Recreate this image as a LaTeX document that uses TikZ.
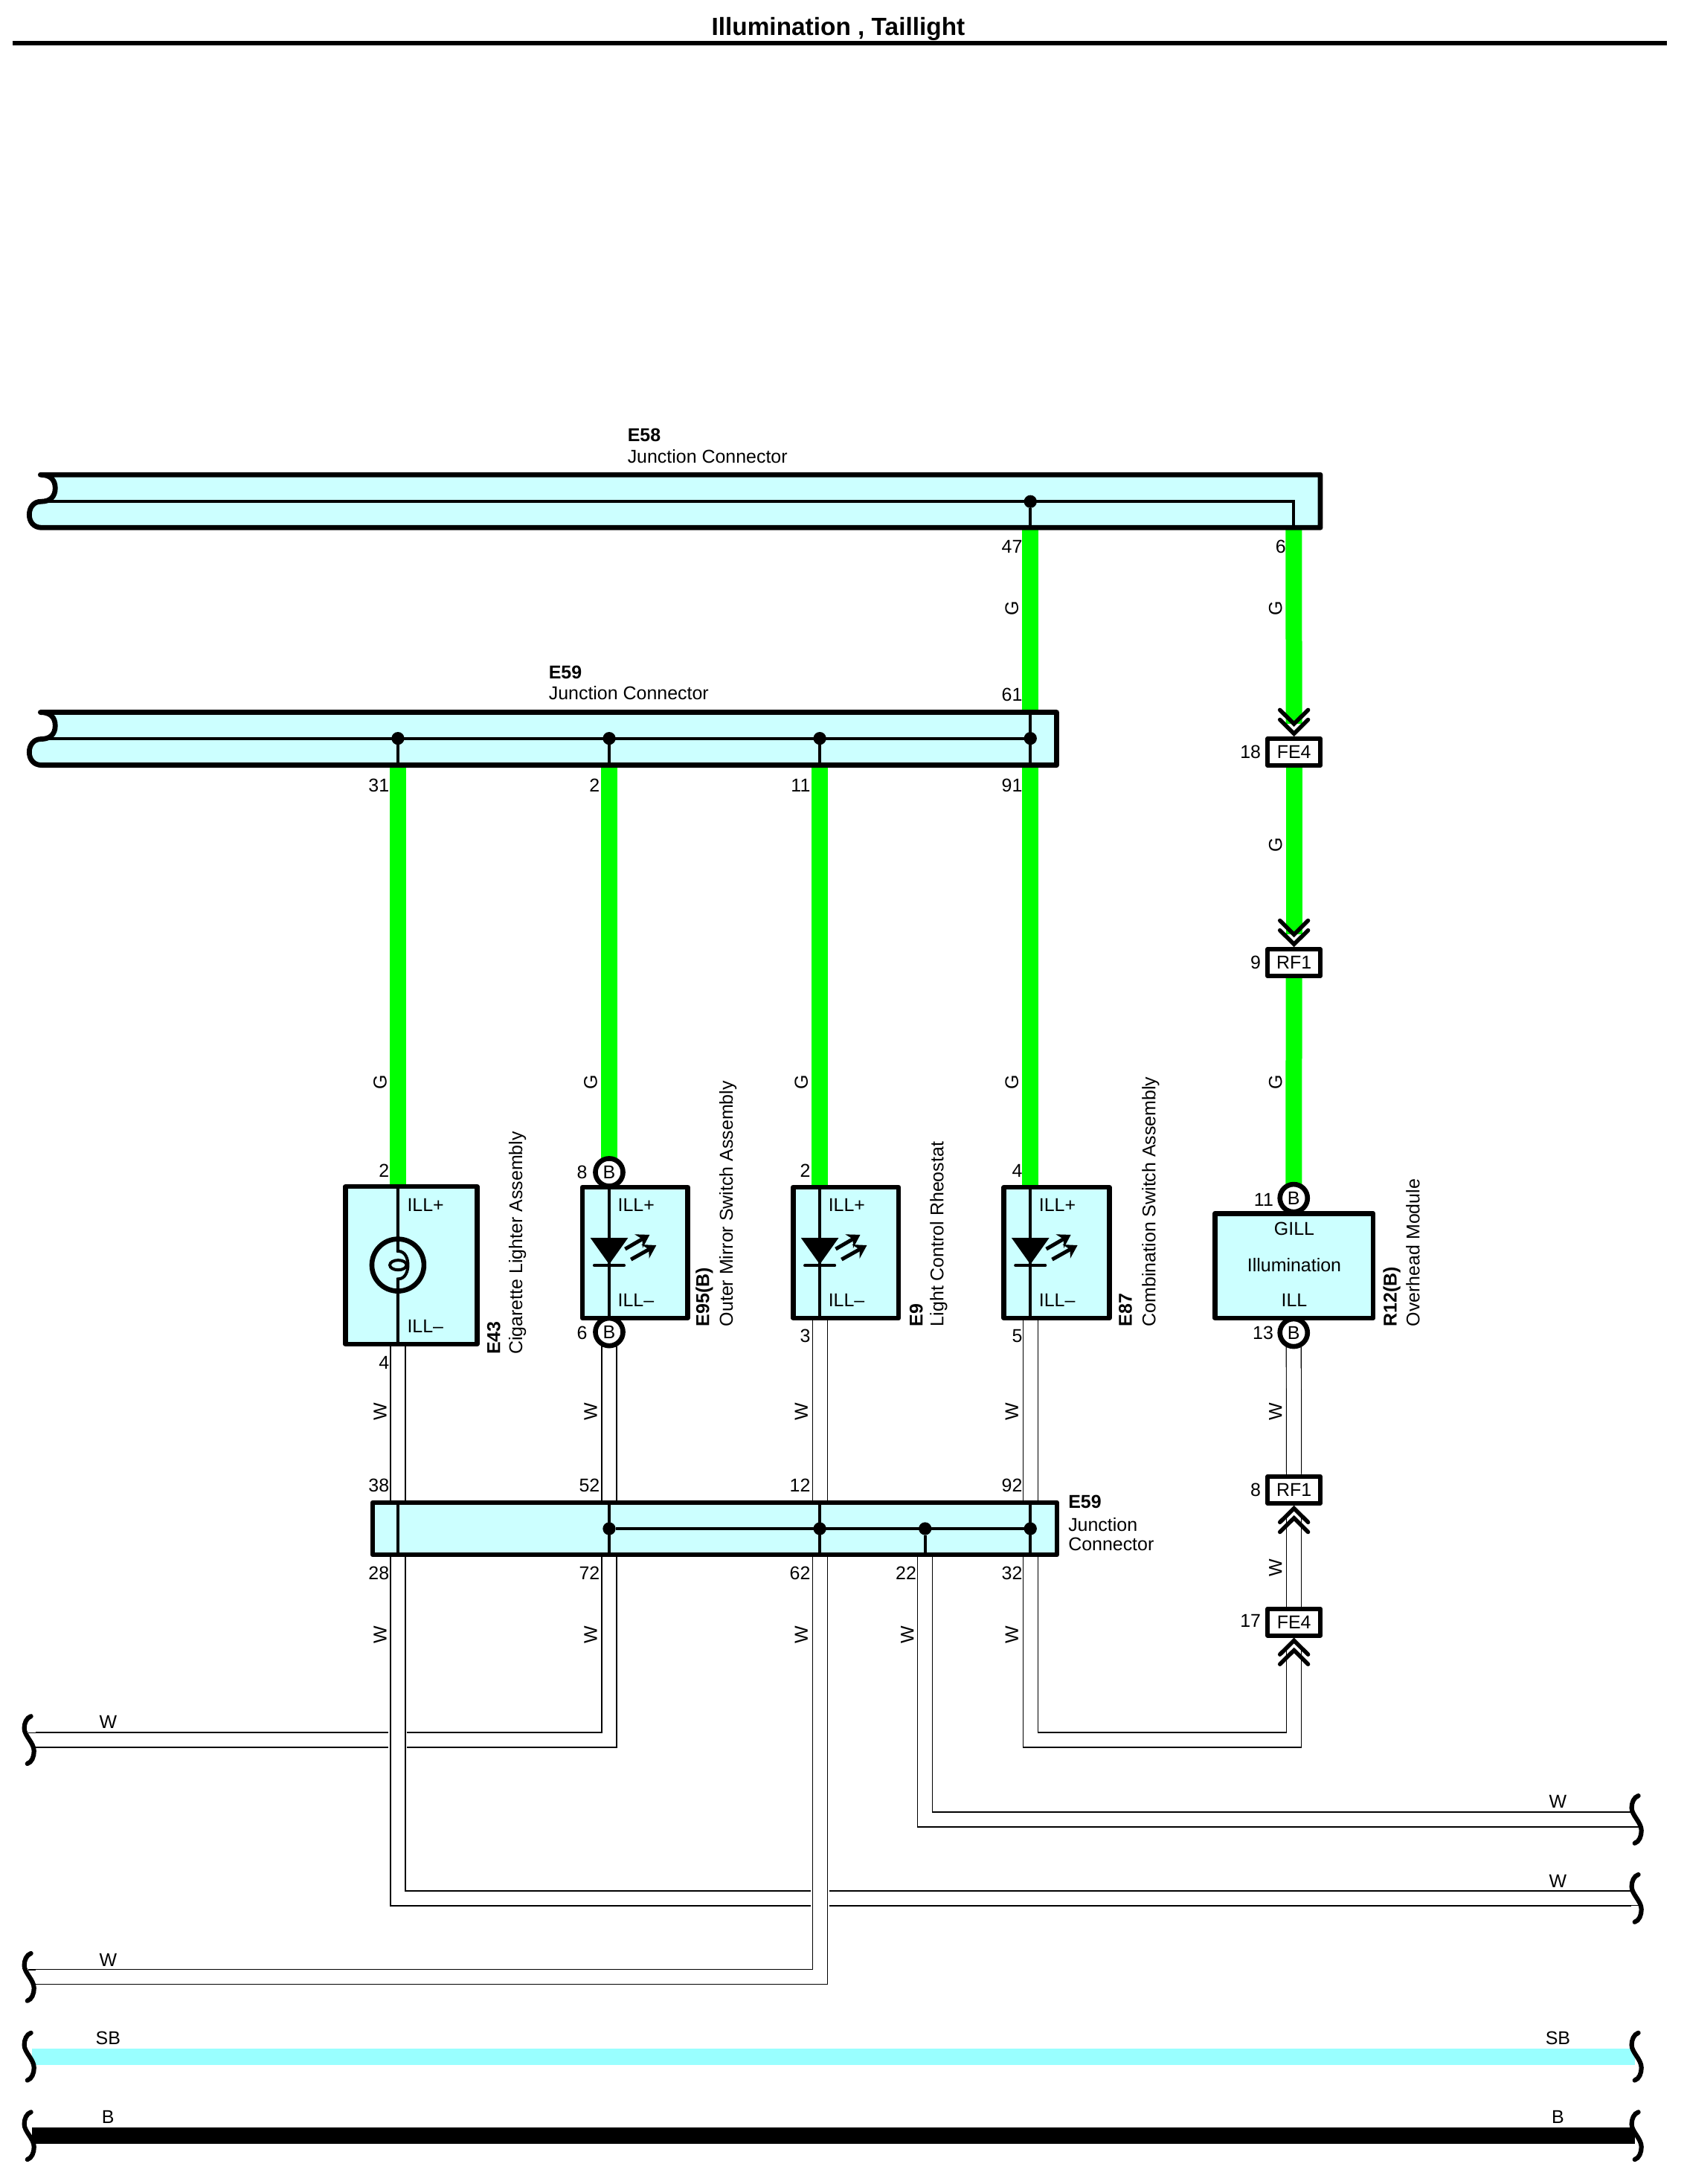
\documentclass[tikz,border=0pt]{standalone}
\usepackage{fontspec}
\setmainfont{Liberation Sans}
\usetikzlibrary{arrows.meta,calc}
\pgfdeclarelayer{bg}
\pgfsetlayers{bg,main}
\definecolor{panel}{HTML}{CCFFFF}
\definecolor{wiregreen}{HTML}{00FF00}
\definecolor{wiresb}{HTML}{99FFFF}
\newcommand{\labfont}{\fontsize{7.1}{8.5}\selectfont}
\newcounter{lblc}
\newcommand{\lbl}[3][]{\stepcounter{lblc}\node[lab,#1] (t\arabic{lblc}) at (#2) {#3};}
\newcommand{\wwire}[1]{\draw[wirehalo] #1; \draw[wireblack] #1; \draw[wirewhite] #1;}
\newcommand{\jbar}[2]{%
  \draw[barline,fill=panel,shift={(0,#1)}] (29,340.4) -- (#2,340.4) -- (#2,378.3) -- (30,378.3)
    .. controls (24,378.3) and (21,374) .. (21,369)
    .. controls (21,364) and (24,359.6) .. (29.3,359.6)
    .. controls (36,359.6) and (39.6,356) .. (39.6,350)
    .. controls (39.6,344) and (36,340.4) .. (29,340.4) -- cycle;}
\tikzset{
  lab/.style={font=\labfont,inner sep=0pt,outer sep=0pt,text=black},
  num/.style={lab,anchor=east},
  side/.style={lab,rotate=90},
  vtext/.style={lab,rotate=90,anchor=west},
  bold/.style={font=\labfont\bfseries},
  barline/.style={line width=0.68mm,line join=round,line cap=round},
  midl/.style={line width=0.42mm,line join=miter},
  innerl/.style={line width=0.4mm},
  comp/.style={draw,fill=panel,line width=0.66mm,line join=round,inner sep=0pt,outer sep=0pt},
  conn/.style={draw,fill=white,line width=0.6mm,line join=round,inner sep=0pt,outer sep=0pt,
    minimum width=0.707cm,minimum height=0.36cm,font=\labfont},
  bpin/.style={circle,draw,fill=white,line width=0.66mm,inner sep=0pt,outer sep=0pt,
    minimum size=0.371cm,font=\labfont},
  jdot/.style={circle,fill=black,inner sep=0pt,outer sep=0pt,minimum size=0.1725cm},
  wiregr/.style={wiregreen,line width=2.2mm},
  wirehalo/.style={white,line width=2.5mm},
  wireblack/.style={black,line width=2.12mm,line join=miter},
  wirewhite/.style={white,line width=1.88mm,line join=miter},
  thinw/.style={black,line width=0.12mm},
  brk/.pic={\draw[line width=0.62mm,line cap=round] (22.2,-17)
     .. controls (19,-16) and (17.4,-12) .. (17.4,-8.4)
     .. controls (17.4,-3) and (24.4,2) .. (24.4,8)
     .. controls (24.4,12) and (22.8,16) .. (19.6,17);},
  chevd/.pic={\draw[line width=0.55mm,line cap=round,line join=miter]
     (-10.1,-20.6) -- (0,-10.6) -- (10.1,-20.6) (-10.1,-13.6) -- (0,-3.6) -- (10.1,-13.6);},
  chevu/.pic={\draw[line width=0.55mm,line cap=round,line join=miter]
     (-10.1,20.6) -- (0,10.6) -- (10.1,20.6) (-10.1,13.6) -- (0,3.6) -- (10.1,13.6);},
  ledsym/.pic={
     \fill (-13.5,0) -- (13.5,0) -- (0,19) -- cycle;
     \draw[line width=0.4mm,line cap=round] (-10.7,19.8) -- (10.7,19.8);
     \draw[line width=0.5mm,-{Stealth[length=1.7mm,width=2.1mm]}] (11.4,8) -- (29,-2.2);
     \draw[line width=0.5mm,-{Stealth[length=1.7mm,width=2.1mm]}] (15.6,15.5) -- (33.8,5.3);},
}
\begin{document}
\begin{tikzpicture}[x=0.01875cm,y=-0.01875cm]
\useasboundingbox (0,0) rectangle (1209.6,1565.87);

% title
\node[lab,font=\fontsize{9.5}{11}\selectfont\bfseries] (title) at (601,20.5) {Illumination , Taillight};
\coordinate (ruleL) at (9,31);
\coordinate (ruleR) at (1195,31);
\draw[line width=0.65mm] (ruleL) -- (ruleR);

% junction bars
\jbar{0}{946.7}
\jbar{170.3}{757.6}
\coordinate (e58b) at (0,378.3);
\coordinate (e59b) at (0,548.6);
\coordinate (e59t) at (0,510.7);
\coordinate (m58) at (29.3,359.6);
\coordinate (m59) at (29.3,529.4);
\coordinate (d6) at (927.6,359.6);
\node[jdot] (d47) at (738.8,359.6) {};
\node[jdot] (d31) at (285.3,529.4) {};
\node[jdot] (d2) at (436.8,529.4) {};
\node[jdot] (d11) at (587.8,529.4) {};
\node[jdot] (d91) at (738.8,529.4) {};
\draw[midl] (m58) -- (d6) -- (d6 |- e58b);
\draw[midl] (d47) -- (d47 |- e58b);
\draw[midl] (m59) -- (d91);
\draw[midl] (d31) -- (d31 |- e59b);
\draw[midl] (d2) -- (d2 |- e59b);
\draw[midl] (d11) -- (d11 |- e59b);
\draw[midl] (d91 |- e59t) -- (d91 |- e59b);

% B pins
\node[bpin] (pE95t) at (436.8,840.5) {B};
\node[bpin] (pE95b) at (436.8,955) {B};
\node[bpin] (pR12t) at (927.6,859) {B};
\node[bpin] (pR12b) at (927.6,955.5) {B};

% components
\node[comp,minimum width=1.77cm,minimum height=2.119cm] (E43) at (294.8,907.2) {};
\node[comp,minimum width=1.416cm,minimum height=1.76cm] (E95) at (455.3,898.1) {};
\node[comp,minimum width=1.416cm,minimum height=1.76cm] (E9) at (606.5,898.1) {};
\node[comp,minimum width=1.416cm,minimum height=1.76cm] (E87) at (757.6,898.1) {};
\node[comp,minimum width=2.128cm,minimum height=1.406cm] (R12) at (927.8,907.5) {};

% lower junction
\node[comp,minimum width=9.2cm,minimum height=0.7cm] (E59low) at (512.5,1096) {};
\coordinate (l285) at (285.3,1096);
\node[jdot] (l437) at (436.8,1096) {};
\node[jdot] (l588) at (587.8,1096) {};
\node[jdot] (l663) at (663.3,1096) {};
\node[jdot] (l739) at (738.8,1096) {};
\draw[midl] (l437) -- (l739);
\draw[innerl] (E59low.north -| l285) -- (E59low.south -| l285);
\draw[innerl] (E59low.north -| l437) -- (E59low.south -| l437);
\draw[innerl] (E59low.north -| l588) -- (E59low.south -| l588);
\draw[innerl] (l663) -- (E59low.south -| l663);
\draw[innerl] (E59low.north -| l739) -- (E59low.south -| l739);

% inline connectors
\node[conn] (FE4a) at (927.8,539.2) {FE4};
\node[conn] (RF1a) at (927.8,690.2) {RF1};
\node[conn] (RF1b) at (927.8,1068.2) {RF1};
\node[conn] (FE4b) at (927.8,1163) {FE4};
\pic at (FE4a.north) {chevd};
\pic at (RF1a.north) {chevd};
\pic at (RF1b.south) {chevu};
\pic at (FE4b.south) {chevu};

% internals of the components
\coordinate (lampc) at (285.3,907);
\node[circle,draw,line width=0.66mm,inner sep=0pt,outer sep=0pt,minimum size=0.7cm] (lamp) at (lampc) {};
\draw[innerl] (E43.north -| lampc) -- (285.3,897) .. controls (291,897) and (292.5,903) .. (292.5,907)
   .. controls (292.5,911) and (291,917) .. (285.3,917) -- (E43.south -| lampc);
\draw[innerl] (285.5,907) ellipse (6 and 3.5);
\draw[innerl] (E95.north -| d2) -- (E95.south -| d2);
\draw[innerl] (E9.north -| d11) -- (E9.south -| d11);
\draw[innerl] (E87.north -| d91) -- (E87.south -| d91);
\pic at (436.8,887.5) {ledsym};
\pic at (587.8,887.5) {ledsym};
\pic at (738.8,887.5) {ledsym};

% wires
\coordinate (lw1) at (25.4,1247.5);
\coordinate (lw2) at (25.4,1417.5);
\coordinate (rw1) at (1169.5,1304.5);
\coordinate (rw2) at (1169.5,1361);
\coordinate (jn) at (927.8,1247.5);
\coordinate (sbL) at (23,1474.5);
\coordinate (sbR) at (1172,1474.5);
\coordinate (bL) at (23,1531.3);
\coordinate (bR) at (1172,1531.3);
\begin{pgfonlayer}{bg}
  \draw[wiregr] (d47) -- (d91);
  \draw[wiregr] (d91) -- (d91 |- E87.north);
  \draw[wiregr] (d6) -- ($(FE4a.north)+(0,-10.6)$);
  \draw[wiregr] (FE4a.south) -- ($(RF1a.north)+(0,-10.6)$);
  \draw[wiregr] (RF1a.south) -- (pR12t);
  \draw[wiregr] (d31) -- (d31 |- E43.north);
  \draw[wiregr] (d2) -- (pE95t);
  \draw[wiregr] (d11) -- (d11 |- E9.north);
  \draw[wiresb,line width=2.2mm] (sbL) -- (sbR);
  \draw[black,line width=2.2mm] (bL) -- (bR);
  \wwire{(pR12b) -- (RF1b)}
  \wwire{($(RF1b.south)+(0,10.6)$) -- (FE4b)}
  \wwire{(l739 |- E87.south) -- (l739) |- (jn) -- ($(FE4b.south)+(0,10.6)$)}
  \wwire{(l663) |- (rw1)}
  \wwire{(pE95b) -- (l437) |- (lw1)}
  \wwire{(l285 |- E43.south) -- (l285) |- (rw2)}
  \wwire{(l588 |- E9.south) -- (l588) |- (lw2)}
  \draw[thinw] (lw1) ++(0,-5.3) -- ++(-5,0);
  \draw[thinw] (lw2) ++(0,-5.3) -- ++(-5,0);
  \draw[thinw] (rw1) ++(0,5.3) -- ++(7,0);
  \draw[thinw] (rw2) ++(0,5.3) -- ++(7,0);
\end{pgfonlayer}

% wire breaks
\pic at (0,1247.5) {brk};
\pic at (0,1417.5) {brk};
\pic at (0,1474.5) {brk};
\pic at (0,1531.3) {brk};
\pic at (1152.5,1304.5) {brk};
\pic at (1152.5,1361) {brk};
\pic at (1152.5,1474.5) {brk};
\pic at (1152.5,1531.3) {brk};

% bar captions
\lbl[anchor=west,bold]{450,312}{E58}
\lbl[anchor=west]{450,327}{Junction Connector}
\lbl[anchor=west,bold]{393.5,482}{E59}
\lbl[anchor=west]{393.5,497}{Junction Connector}
\lbl[anchor=west,bold]{766,1077}{E59}
\lbl[anchor=west]{766,1093}{Junction}
\lbl[anchor=west]{766,1107}{Connector}

% pin numbers
\lbl[num]{733,392}{47}
\lbl[num]{922,392}{6}
\lbl[num]{733,498}{61}
\lbl[num]{279,563}{31}
\lbl[num]{430,563}{2}
\lbl[num]{581,563}{11}
\lbl[num]{733,563}{91}
\lbl[num]{904,539}{18}
\lbl[num]{904,690}{9}
\lbl[num]{913,860}{11}
\lbl[num]{913,955.5}{13}
\lbl[num]{904,1068}{8}
\lbl[num]{904,1162}{17}
\lbl[num]{279,839.5}{2}
\lbl[num]{421,840.5}{8}
\lbl[num]{581,839.5}{2}
\lbl[num]{733,839.5}{4}
\lbl[num]{279,977}{4}
\lbl[num]{421,955.5}{6}
\lbl[num]{581,958}{3}
\lbl[num]{733,958}{5}
\lbl[num]{279,1065}{38}
\lbl[num]{430,1065}{52}
\lbl[num]{581,1065}{12}
\lbl[num]{733,1065}{92}
\lbl[num]{279,1128}{28}
\lbl[num]{430,1128}{72}
\lbl[num]{581,1128}{62}
\lbl[num]{657,1128}{22}
\lbl[num]{733,1128}{32}

% wire colours, vertical
\lbl[side]{725.5,436}{G}
\lbl[side]{914.5,436}{G}
\lbl[side]{914.5,606}{G}
\lbl[side]{914.5,776}{G}
\lbl[side]{272.5,776}{G}
\lbl[side]{423.5,776}{G}
\lbl[side]{574.5,776}{G}
\lbl[side]{725.5,776}{G}
\lbl[side]{272.5,1012}{W}
\lbl[side]{423.5,1012}{W}
\lbl[side]{574.5,1012}{W}
\lbl[side]{725.5,1012}{W}
\lbl[side]{914.5,1012}{W}
\lbl[side]{914.5,1124}{W}
\lbl[side]{272.5,1172}{W}
\lbl[side]{423.5,1172}{W}
\lbl[side]{574.5,1172}{W}
\lbl[side]{650.5,1172}{W}
\lbl[side]{725.5,1172}{W}

% wire colours, horizontal
\lbl{77.5,1234.5}{W}
\lbl{77.5,1405.5}{W}
\lbl{77.5,1461.5}{SB}
\lbl{77.5,1518}{B}
\lbl{1117,1291.5}{W}
\lbl{1117,1348.5}{W}
\lbl{1117,1461.5}{SB}
\lbl{1117,1518}{B}

% inside the components
\lbl[anchor=west]{292,864}{ILL+}
\lbl[anchor=west]{292,951}{ILL–}
\lbl[anchor=west]{443,864}{ILL+}
\lbl[anchor=west]{443,932}{ILL–}
\lbl[anchor=west]{594,864}{ILL+}
\lbl[anchor=west]{594,932}{ILL–}
\lbl[anchor=west]{745,864}{ILL+}
\lbl[anchor=west]{745,932}{ILL–}
\lbl{928,881}{GILL}
\lbl{928,907}{Illumination}
\lbl{928,932}{ILL}

% component captions
\lbl[vtext,bold]{354,971}{E43}
\lbl[vtext]{371,971}{Cigarette Lighter Assembly}
\lbl[vtext,bold]{505,951}{E95(B)}
\lbl[vtext]{522,951}{Outer Mirror Switch Assembly}
\lbl[vtext,bold]{657,951}{E9}
\lbl[vtext]{673,951}{Light Control Rheostat}
\lbl[vtext,bold]{807,951}{E87}
\lbl[vtext]{825,951}{Combination Switch Assembly}
\lbl[vtext,bold]{998,951}{R12(B)}
\lbl[vtext]{1013,951}{Overhead Module}
\end{tikzpicture}
\end{document}
